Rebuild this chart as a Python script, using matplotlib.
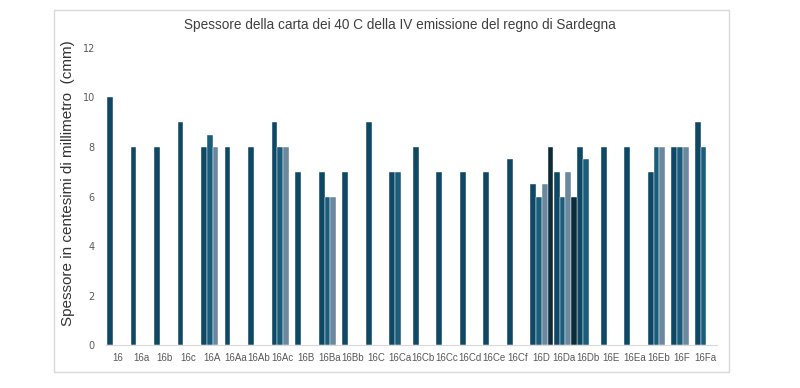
import numpy as np
import matplotlib.pyplot as plt
from matplotlib.patches import Rectangle

# categories and the four series (nan = no bar)
cats = ['16', '16a', '16b', '16c', '16A', '16Aa', '16Ab', '16Ac', '16B', '16Ba',
        '16Bb', '16C', '16Ca', '16Cb', '16Cc', '16Cd', '16Ce', '16Cf', '16D',
        '16Da', '16Db', '16E', '16Ea', '16Eb', '16F', '16Fa']
nan = np.nan
s1 = [10, 8, 8, 9, 8, 8, 8, 9, 7, 7, 7, 9, 7, 8, 7, 7, 7, 7.5, 6.5, 7, 8, 8, 8, 7, 8, 9]
s2 = [nan, nan, nan, nan, 8.5, nan, nan, 8, nan, 6, nan, nan, 7, nan, nan, nan, nan, nan,
      6, 6, 7.5, nan, nan, 8, 8, 8]
s3 = [nan, nan, nan, nan, 8, nan, nan, 8, nan, 6, nan, nan, nan, nan, nan, nan, nan, nan,
      6.5, 7, nan, nan, nan, 8, 8, nan]
s4 = [nan] * 18 + [8, 6] + [nan] * 6

colors = ['#0f4864', '#1a5d7b', '#6c889e', '#0b2b3b']

fig = plt.figure(figsize=(8, 3.88), dpi=100)
ax = fig.add_axes([0.1325, 0.1108, 0.764, 0.7655])

x = np.arange(len(cats))
w = 0.245
for k, (vals, c) in enumerate(zip([s1, s2, s3, s4], colors)):
    ax.bar(x - 0.45 + w / 2 + k * w, vals, width=w, color=c,
           edgecolor='#ffffff', linewidth=0.3)

ax.set_xlim(-0.5, len(cats) - 0.5)
ax.set_ylim(0, 12)
ax.set_yticks(range(0, 13, 2))
ax.set_xticks(x)
ax.set_xticklabels(cats, family='Liberation Sans', fontsize=7)
ax.tick_params(axis='both', length=0, labelcolor='#595959')
ax.tick_params(axis='y', pad=8, labelsize=7)
ax.tick_params(axis='x', pad=6)
for sp in ['top', 'right', 'left']:
    ax.spines[sp].set_visible(False)
ax.spines['bottom'].set_color('#d9d9d9')

ax.set_ylabel('Spessore in centesimi di millimetro  (cmm)', fontsize=11,
              family='Liberation Sans', color='#333333')
ax.yaxis.set_label_coords(-0.05, 0.545)
fig.text(0.5, 0.935, 'Spessore della carta dei 40 C della IV emissione del regno di Sardegna',
         ha='center', va='center', fontsize=9.8, family='Liberation Sans', color='#404040')

fig.patches.append(Rectangle((0.0675, 0.041), 0.8435, 0.933, transform=fig.transFigure,
                             fill=False, edgecolor='#d9d9d9', linewidth=1))

fig.savefig('out.png', dpi=100)
